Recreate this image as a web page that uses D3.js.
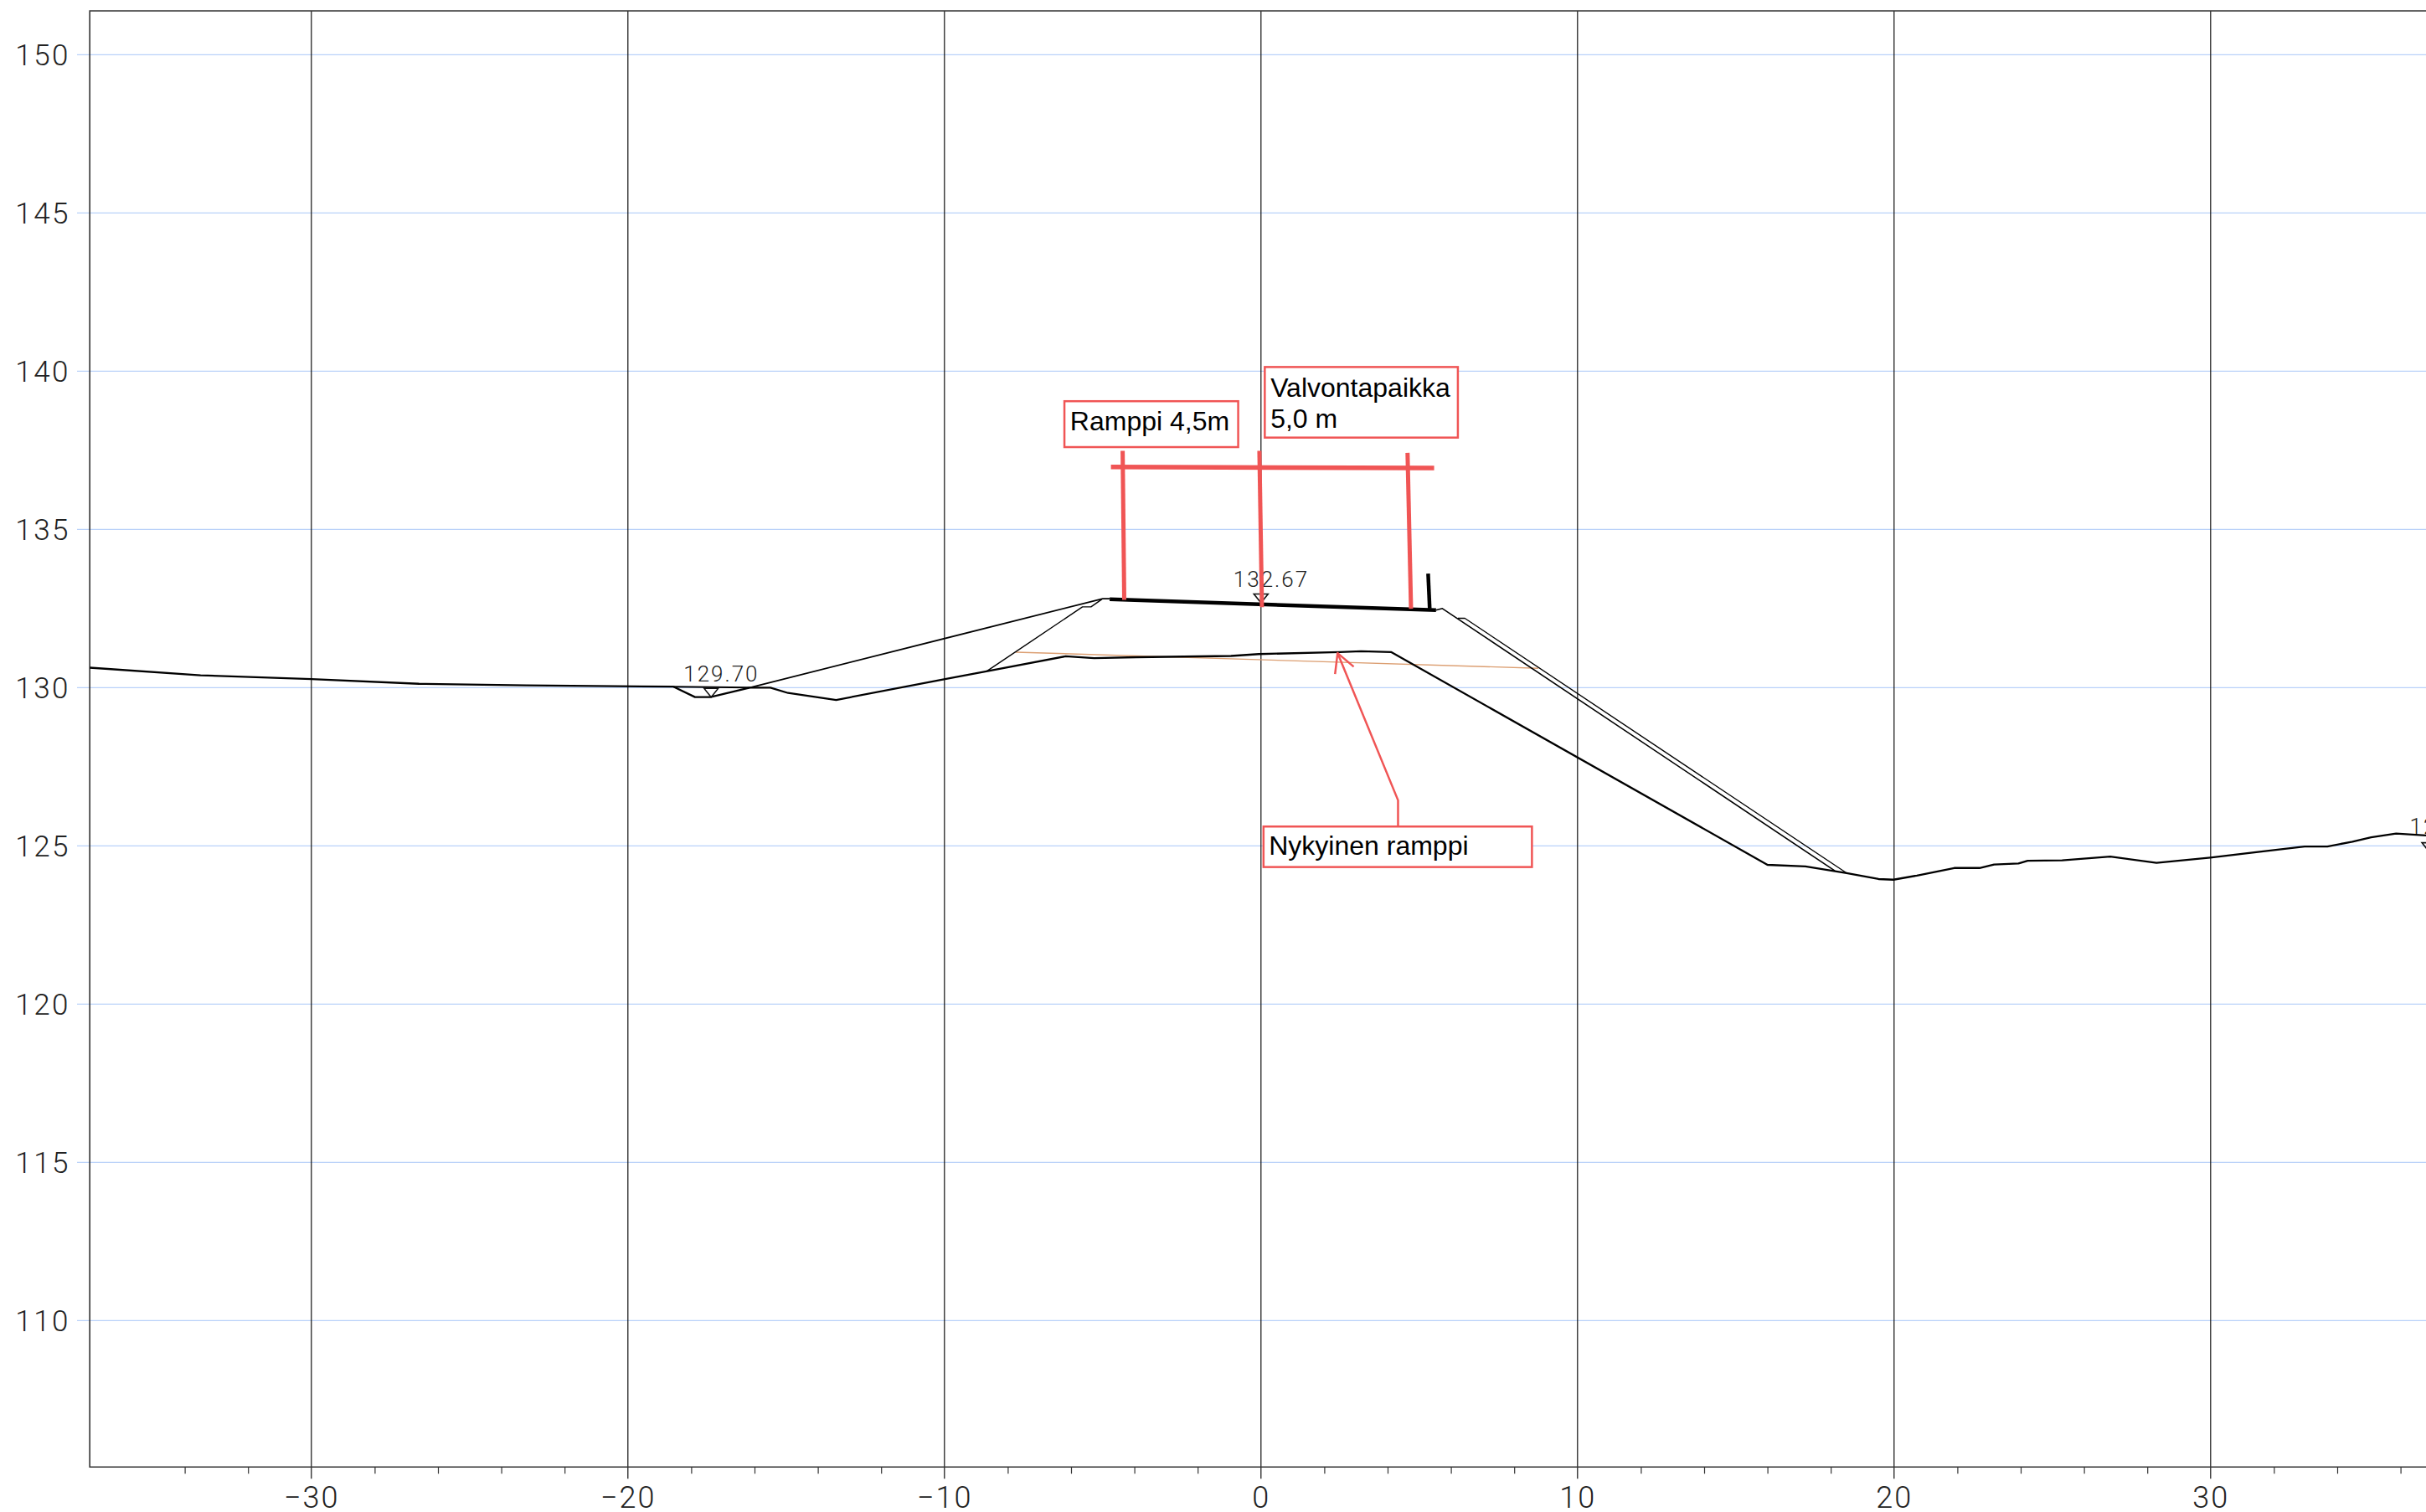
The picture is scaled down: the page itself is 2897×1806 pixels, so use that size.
<!DOCTYPE html>
<html><head><meta charset="utf-8"><title>Poikkileikkaus</title>
<script src="https://cdn.jsdelivr.net/npm/d3@7"></script>
<style>
html,body{margin:0;padding:0;background:#fff;overflow:hidden}
svg{display:block}
.cad{font-family:Roboto,sans-serif;font-weight:300;fill:#222}
.note{font-family:"Liberation Sans",Arial,sans-serif;fill:#000}
</style></head><body><div id="chart"></div>
<script>
const xMajor=[-30,-20,-10,0,10,20,30];
const xMinor=[-34,-32,-28,-26,-24,-22,-18,-16,-14,-12,-8,-6,-4,-2,2,4,6,8,12,14,16,18,22,24,26,28,32,34,36];
const yMajor=[110,115,120,125,130,135,140,145,150];
const groundX=[-37,-33.5,-30,-26.6,-23.2,-18.56,-17.88,-17.39,-16.15,-15.5,-14.94,-13.42,-9.98,-8.71,-6.17,-5.27,-3.94,-0.95,-0.07,2.49,3.16,4.12,16.0,17.2,18.5,19.51,19.98,20.72,21.9,22.7,23.16,23.93,24.22,25.31,26.83,28.29,29.99,32.97,33.69,34.48,35.07,35.86,36.9];
const groundY=[130.63,130.39,130.27,130.12,130.07,130.03,129.70,129.70,130.0,130.0,129.83,129.61,130.27,130.51,130.99,130.93,130.96,131.0,131.06,131.12,131.15,131.12,124.4,124.35,124.14,123.95,123.93,124.06,124.3,124.3,124.41,124.44,124.53,124.54,124.66,124.46,124.63,124.98,124.98,125.13,125.27,125.39,125.32];
const ditchTopX=[-18.56,-16.15];
const ditchTopY=[130.03,130.0];
const slopeLeftX=[-16.15,-5.0,-4.78];
const slopeLeftY=[130.0,132.81,132.81];
const innerLeftX=[-8.66,-5.64,-5.37,-5.03];
const innerLeftY=[130.52,132.55,132.55,132.79];
const slopeRightX=[5.53,5.73,18.13];
const slopeRightY=[132.45,132.5,124.21];
const outerRightX=[6.22,6.44,18.5];
const outerRightY=[132.19,132.19,124.14];
const roadX=[-4.78,5.53];
const roadY=[132.79,132.45];
const postX=[5.28,5.33];
const postY=[133.6,132.5];
const orangeX=[-7.75,8.76];
const orangeY=[131.12,130.61];
const dimHX=[-4.74,5.47];
const dimHY=[136.97,136.94];
const dim1X=[-4.37,-4.32], dim1Y=[137.48,132.77];
const dim2X=[-0.05,0.03], dim2Y=[137.48,132.54];
const dim3X=[4.63,4.74], dim3Y=[137.42,132.49];
const leaderX=[4.33,4.33,2.42], leaderY=[125.61,126.44,131.09];
const barbX=[2.34,2.42,2.93], barbY=[130.43,131.09,130.66];
const levelNames=["129.70","132.67","125.32"];
const levelX=[-17.37,0,36.9];
const levelY=[129.70,132.68,124.82];
const boxText=[["Ramppi 4,5m"],["Valvontapaikka","5,0 m"],["Nykyinen ramppi"]];
const boxX0=[-6.21,0.12,0.08], boxX1=[-0.72,6.22,8.56];
const boxY0=[139.05,140.13,125.61], boxY1=[137.60,137.90,124.33];
const textX=[-6.03,0.30,0.25];
const textY=[[138.14],[139.19,138.21],[124.72]];

const W=2897,H=1806;
const x=d3.scaleLinear().domain([-37,37]).range([1505.8-37*37.8,1505.8+37*37.8]);
const y=d3.scaleLinear().domain([100,150]).range([65.3+50*37.8,65.3]);
const plotTop=13, plotBottom=1752.3, plotLeft=x(-37);

const svg=d3.select("#chart").append("svg").attr("width",W).attr("height",H).attr("viewBox",[0,0,W,H]);
svg.append("rect").attr("width",W).attr("height",H).attr("fill","#fff");
const line=d3.line().x(d=>x(d[0])).y(d=>y(d[1]));
const path=(xs,ys,stroke,w)=>svg.append("path").attr("d",line(d3.zip(xs,ys))).attr("fill","none").attr("stroke",stroke).attr("stroke-width",w).attr("stroke-linejoin","round");

// horizontal grid
svg.selectAll("line.hgrid").data(yMajor).join("line").attr("class","hgrid")
  .attr("x1",92).attr("x2",W).attr("y1",d=>y(d)).attr("y2",d=>y(d))
  .attr("stroke","#b9d1f9").attr("stroke-width",1.2);
// vertical grid
svg.selectAll("line.vgrid").data(xMajor).join("line").attr("class","vgrid")
  .attr("x1",d=>x(d)).attr("x2",d=>x(d)).attr("y1",plotTop).attr("y2",plotBottom+14)
  .attr("stroke","#111").attr("stroke-width",1.2);
// frame
svg.append("path").attr("d",`M${W},${plotTop}H${plotLeft}V${plotBottom}H${W}`).attr("fill","none").attr("stroke","#333").attr("stroke-width",1.6);
// minor ticks
svg.append("g").attr("transform",`translate(0,${plotBottom})`)
  .call(d3.axisBottom(x).tickValues(xMinor).tickSize(8).tickFormat(""))
  .call(g=>g.select(".domain").remove())
  .call(g=>g.selectAll("line").attr("stroke","#333").attr("stroke-width",1.2));
// x labels
svg.append("g").attr("transform",`translate(0,${plotBottom})`)
  .call(d3.axisBottom(x).tickValues(xMajor).tickSize(0).tickFormat(d=>d<0?"\u2212"+(-d):String(d)))
  .call(g=>g.select(".domain").remove())
  .call(g=>g.selectAll("text").attr("class","cad").attr("y",48.7).attr("dy",0).style("font-size","36px").style("letter-spacing","2px"));
// y labels
svg.append("g").attr("transform","translate(84,0)")
  .call(d3.axisLeft(y).tickValues(yMajor).tickSize(0).tickPadding(0).tickFormat(d3.format("d")))
  .call(g=>g.select(".domain").remove())
  .call(g=>g.selectAll("text").attr("class","cad").attr("dy",12.2).style("font-size","35px").style("letter-spacing","2.5px"));

// profile
path(orangeX,orangeY,"#dc9f72",1.4);
path(slopeRightX,slopeRightY,"#000",1.6);
path(outerRightX,outerRightY,"#000",1.3);
path(innerLeftX,innerLeftY,"#000",1.4);
path(slopeLeftX,slopeLeftY,"#000",1.9);
path(ditchTopX,ditchTopY,"#000",2);
path(groundX,groundY,"#000",2.3);
path(roadX,roadY,"#000",4.5);
path(postX,postY,"#000",4.5);

// level markers
const labelDx=[-33,-33,-23], labelDy=[-19,-19,-21];
const lv=svg.selectAll("g.level").data(levelNames).join("g").attr("class","level")
  .attr("transform",(d,i)=>`translate(${x(levelX[i])},${y(levelY[i])})`);
lv.append("path").attr("d","M-8.5,-10.5H8.5L0,0Z").attr("fill","none").attr("stroke","#111").attr("stroke-width",1.6);
lv.append("text").attr("class","cad").attr("x",(d,i)=>labelDx[i]).attr("y",(d,i)=>labelDy[i]).style("font-size","26px").style("letter-spacing","2px").text(d=>d);

// red annotations
const red="#f05555";
path(dimHX,dimHY,red,5.5);
path(dim1X,dim1Y,red,5);
path(dim2X,dim2Y,red,5);
path(dim3X,dim3Y,red,5);
path(leaderX,leaderY,red,2.5);
path(barbX,barbY,red,2.5);
boxText.forEach((lines,i)=>{
  svg.append("rect").attr("x",x(boxX0[i])).attr("y",y(boxY0[i]))
    .attr("width",x(boxX1[i])-x(boxX0[i])).attr("height",y(boxY1[i])-y(boxY0[i]))
    .attr("fill","#fff").attr("stroke",red).attr("stroke-width",2.5);
  lines.forEach((t,j)=>svg.append("text").attr("class","note").attr("x",x(textX[i])).attr("y",y(textY[i][j])).style("font-size","32px").text(t));
});
</script></body></html>
